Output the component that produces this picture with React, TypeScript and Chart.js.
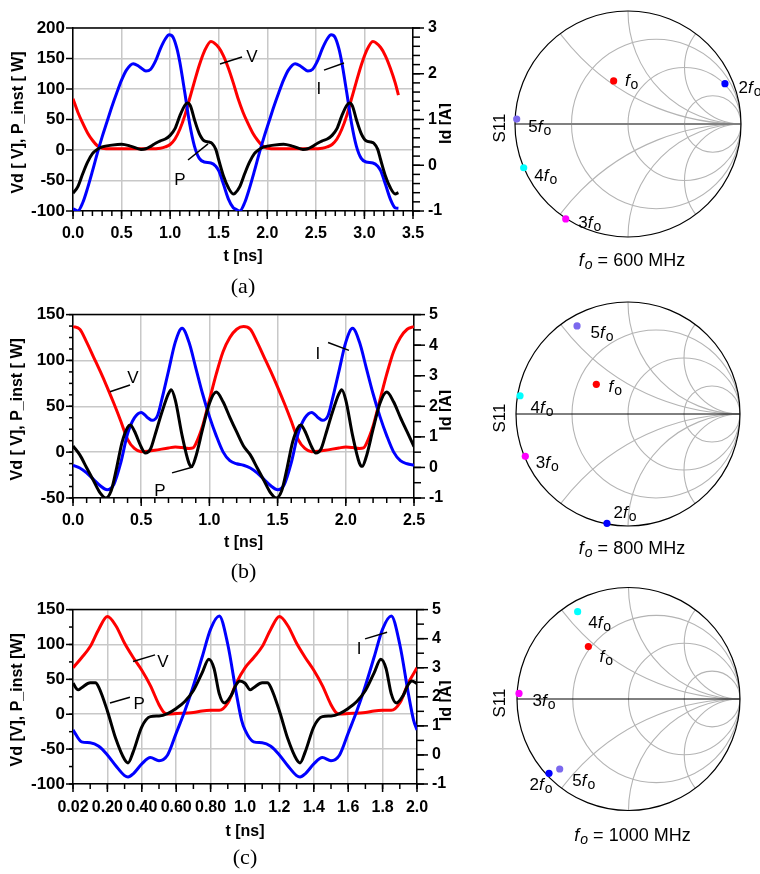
import React, { useEffect, useRef } from "react";
import { Chart, registerables } from "chart.js";
Chart.register(...registerables);

const SANS = "Arial, 'Liberation Sans', Helvetica, sans-serif";
const SERIF = "'Times New Roman', 'Liberation Serif', serif";
const GRID = "#c8c8c8";

// ---------------- Panel (a) : f0 = 600 MHz ----------------
const tV_a = [0,0.05,0.1,0.15,0.2,0.25,0.3,0.4,0.6,0.8,0.9,0.95,1.0,1.05,1.1,1.15,1.2,1.25,1.3,1.35,1.42,1.5,1.55,1.6,1.65,1.7,1.75,1.8,1.85,1.9,1.95,2.0,2.1,2.267,2.467,2.567,2.617,2.667,2.717,2.767,2.817,2.867,2.917,2.967,3.017,3.087,3.167,3.217,3.267,3.317,3.35];
const V_a = [84,62,44,28,16,7,3,2,2,2,3,5,9,18,34,56,84,112,139,161,178,168,154,134,110,84,62,44,28,16,7,3,2,2,2,3,5,9,18,34,56,84,112,139,161,178,168,154,134,110,90];
const tI_a = [0,0.05,0.1,0.15,0.2,0.25,0.3,0.35,0.4,0.45,0.5,0.55,0.62,0.68,0.75,0.8,0.85,0.9,0.95,0.99,1.03,1.07,1.1,1.15,1.2,1.25,1.3,1.35,1.42,1.47,1.5,1.55,1.6,1.65,1.667,1.717,1.767,1.817,1.867,1.917,1.967,2.017,2.067,2.117,2.167,2.217,2.287,2.347,2.417,2.467,2.517,2.567,2.617,2.657,2.697,2.737,2.767,2.817,2.867,2.917,2.967,3.017,3.087,3.137,3.167,3.217,3.267,3.317,3.35];
const I_a = [-0.95,-1.0,-0.82,-0.5,-0.13,0.26,0.62,0.95,1.28,1.58,1.86,2.08,2.22,2.16,2.06,2.1,2.28,2.55,2.76,2.85,2.8,2.55,2.25,1.6,0.92,0.42,0.15,0.07,0.05,-0.02,-0.12,-0.42,-0.74,-0.93,-0.95,-1.0,-0.82,-0.5,-0.13,0.26,0.62,0.95,1.28,1.58,1.86,2.08,2.22,2.16,2.06,2.1,2.28,2.55,2.76,2.85,2.8,2.55,2.25,1.6,0.92,0.42,0.15,0.07,0.05,-0.02,-0.12,-0.42,-0.74,-0.93,-0.94];
const tP_a = [0,0.05,0.1,0.15,0.2,0.25,0.3,0.4,0.5,0.6,0.7,0.75,0.8,0.85,0.9,0.95,1.0,1.05,1.1,1.15,1.18,1.21,1.25,1.3,1.35,1.4,1.43,1.47,1.5,1.55,1.6,1.65,1.667,1.717,1.767,1.817,1.867,1.917,1.967,2.067,2.167,2.267,2.367,2.417,2.467,2.517,2.567,2.617,2.667,2.717,2.767,2.817,2.847,2.877,2.917,2.967,3.017,3.067,3.097,3.137,3.167,3.217,3.267,3.317,3.35];
const P_a = [-71,-60,-39,-20,-6,1,5,8,9.5,6,1,2,6,11,15,18,24,35,56,73,77,72,50,27,15,13,11,1,-16,-43,-62,-72,-71,-60,-39,-20,-6,1,5,8,9.5,6,1,2,6,11,15,18,24,35,56,73,77,72,50,27,15,13,11,1,-16,-43,-62,-72,-70];
const xTicks_a = [0,0.5,1,1.5,2,2.5,3,3.5];
const xLabels_a = ["0.0","0.5","1.0","1.5","2.0","2.5","3.0","3.5"];
const yTicks_a = [-100,-50,0,50,100,150,200];
const y1Ticks_a = [-1,0,1,2,3];

// ---------------- Panel (b) : f0 = 800 MHz ----------------
const tV_b = [0,0.05,0.1,0.15,0.2,0.25,0.3,0.35,0.4,0.45,0.5,0.55,0.6,0.7,0.75,0.8,0.85,0.88,0.9,0.95,1.0,1.05,1.1,1.15,1.2,1.25,1.3,1.35,1.4,1.45,1.5,1.55,1.6,1.65,1.7,1.75,1.8,1.85,1.95,2.0,2.05,2.1,2.13,2.15,2.2,2.25,2.3,2.35,2.4,2.45,2.5];
const V_b = [137,134,120,104,88,71,53,34,14,4,0.5,1,2,4.6,5.6,5,4,4.6,9,28.5,56.7,85,109.5,125,134,137,134,120,104,88,71,53,34,14,4,0.5,1,2,4.6,5.6,5,4,4.6,9,28.5,56.7,85,109.5,125,134,137];
const tI_b = [0,0.05,0.1,0.15,0.2,0.25,0.3,0.35,0.4,0.45,0.5,0.55,0.58,0.62,0.65,0.7,0.75,0.8,0.85,0.9,0.95,1.0,1.05,1.1,1.15,1.2,1.25,1.3,1.35,1.4,1.45,1.5,1.55,1.6,1.65,1.7,1.75,1.8,1.83,1.87,1.9,1.95,2.0,2.05,2.1,2.15,2.2,2.25,2.3,2.35,2.4,2.45,2.5];
const I_b = [0.07,-0.02,-0.18,-0.39,-0.6,-0.73,-0.55,0.15,1.1,1.62,1.8,1.62,1.54,1.7,2.2,3.15,4.1,4.55,4.1,3.26,2.41,1.67,1.04,0.51,0.22,0.12,0.07,-0.02,-0.18,-0.39,-0.6,-0.73,-0.55,0.15,1.1,1.62,1.8,1.62,1.54,1.7,2.2,3.15,4.1,4.55,4.1,3.26,2.41,1.67,1.04,0.51,0.22,0.12,0.07];
const tP_b = [0,0.05,0.1,0.15,0.2,0.24,0.28,0.32,0.36,0.4,0.42,0.45,0.5,0.53,0.57,0.6,0.65,0.7,0.72,0.75,0.8,0.85,0.87,0.9,0.95,1.0,1.05,1.1,1.15,1.2,1.25,1.3,1.35,1.4,1.45,1.49,1.53,1.57,1.61,1.65,1.67,1.7,1.75,1.78,1.82,1.85,1.9,1.95,1.97,2.0,2.05,2.1,2.12,2.15,2.2,2.25,2.3,2.35,2.4,2.45,2.5];
const P_b = [6.7,-3,-17,-31,-44.7,-50,-42,-17,11,27,29.6,23,5.6,-1,4,18,42.6,63.7,68,56.7,18,-12,-15.5,-5,25,53,65.5,55,38,22,6.7,-3,-17,-31,-44.7,-50,-42,-17,11,27,29.6,23,5.6,-1,4,18,42.6,63.7,68,56.7,18,-12,-15.5,-5,25,53,65.5,55,38,22,6];
const xTicks_b = [0,0.5,1,1.5,2,2.5];
const xLabels_b = ["0.0","0.5","1.0","1.5","2.0","2.5"];
const yTicks_b = [-50,0,50,100,150];
const y1Ticks_b = [-1,0,1,2,3,4,5];

// ---------------- Panel (c) : f0 = 1000 MHz ----------------
const tV_c = [0,0.05,0.1,0.15,0.2,0.25,0.3,0.35,0.4,0.45,0.5,0.53,0.55,0.6,0.7,0.75,0.8,0.85,0.9,0.95,1,1.05,1.1,1.15,1.2,1.25,1.3,1.35,1.4,1.45,1.5,1.53,1.55,1.6,1.7,1.75,1.8,1.85,1.9,1.95,2.0];
const V_c = [66.5,81,97,122,140,126.5,101.7,81.4,63,41,13.7,2.4,0.5,1,2.4,4.7,5.6,5.6,16,45,66.5,81,97,122,140,126.5,101.7,81.4,63,41,13.7,2.4,0.5,1,2.4,4.7,5.6,5.6,16,45,66.5];
const tI_c = [0,0.05,0.1,0.15,0.2,0.25,0.3,0.32,0.35,0.4,0.45,0.5,0.55,0.6,0.65,0.7,0.75,0.8,0.85,0.9,0.95,0.98,1,1.05,1.1,1.15,1.2,1.25,1.3,1.32,1.35,1.4,1.45,1.5,1.55,1.6,1.65,1.7,1.75,1.8,1.85,1.9,1.95,1.98,2.0];
const I_c = [0.86,0.45,0.42,0.3,0.0,-0.38,-0.71,-0.76,-0.65,-0.31,-0.09,-0.2,0.0,0.75,1.51,2.38,3.35,4.33,4.78,3.8,2.1,1.2,0.86,0.45,0.42,0.3,0.0,-0.38,-0.71,-0.76,-0.65,-0.31,-0.09,-0.2,0.0,0.75,1.51,2.38,3.35,4.33,4.78,3.8,2.1,1.2,0.86];
const tP_c = [0,0.03,0.05,0.1,0.13,0.15,0.2,0.25,0.3,0.32,0.35,0.4,0.45,0.5,0.55,0.6,0.65,0.7,0.75,0.79,0.82,0.85,0.88,0.92,0.95,0.97,1,1.03,1.05,1.1,1.13,1.15,1.2,1.25,1.3,1.32,1.35,1.4,1.45,1.5,1.55,1.6,1.65,1.7,1.75,1.79,1.82,1.85,1.88,1.92,1.95,1.97,2.0];
const P_c = [44.4,35,38,45,45,38.5,4.7,-36,-65,-69.8,-54,-18,-3.4,-2.5,1,8.3,18.2,34,59,79,65.6,29.5,16,27,43,47.6,44.4,35,38,45,45,38.5,4.7,-36,-65,-69.8,-54,-18,-3.4,-2.5,1,8.3,18.2,34,59,79,65.6,29.5,16,27,43,47.6,44];
const xTicks_c = [0,0.2,0.4,0.6,0.8,1.0,1.2,1.4,1.6,1.8,2.0];
const xLabels_c = ["0.02","0.20","0.40","0.60","0.80","1.0","1.2","1.4","1.6","1.8","2.0"];
const yTicks_c = [-100,-50,0,50,100,150];
const y1Ticks_c = [-1,0,1,2,3,4,5];

// ---------------- Smith charts (S11 reflection coefficient) ----------------
const harmPrefix = ["", "2", "3", "4", "5"];
const harmColors = ["#ff0000", "#0000ff", "#ff00ff", "#00ffff", "#7b68ee"];
const gRe_a = [-0.127, 0.858, -0.551, -0.923, -0.985];
const gIm_a = [0.381, 0.357, -0.84, -0.387, 0.044];
const gRe_b = [-0.283, -0.188, -0.917, -0.964, -0.455];
const gIm_b = [0.265, -0.976, -0.378, 0.163, 0.786];
const gRe_c = [-0.36, -0.713, -0.982, -0.456, -0.617];
const gIm_c = [0.47, -0.667, 0.05, 0.783, -0.628];
const smithR = [1 / 3, 1, 3];
const smithX = [0.5, 1, 2];

type Series = { t: number[]; v: number[]; color: string; axis: "y" | "y1" };
type Note = { text: string; at: [number, number]; line: [number, number, number, number] };
type WaveCfg = {
  left: number; top: number; width: number; height: number;
  plotLeft: number; plotRight: number; plotTop: number; plotBottom: number;
  series: Series[];
  xMin: number; xMax: number; xTicks: number[]; xLabels: string[]; xMinor: number;
  yMin: number; yMax: number; yTicks: number[]; yMinor: number;
  y1Min: number; y1Max: number; y1Ticks: number[]; y1Minor: number;
  yTitle: string; y1Title: string; xTitle: string; caption: string;
  xPad: number; xTitleY: number; captionY: number; yTitleX: number;
  notes: Note[];
};

function line(ctx: CanvasRenderingContext2D, x1: number, y1: number, x2: number, y2: number) {
  ctx.beginPath(); ctx.moveTo(x1, y1); ctx.lineTo(x2, y2); ctx.stroke();
}

function minorVals(min: number, max: number, step: number) {
  const out: number[] = [];
  if (!step) return out;
  const n = Math.round((max - min) / step);
  for (let k = 0; k <= n; k++) out.push(min + k * step);
  return out;
}

function buildWave(cfg: WaveCfg): any {
  const datasets = cfg.series.map((s) => ({
    data: s.t.map((x, i) => ({ x, y: s.v[i] })),
    borderColor: s.color, backgroundColor: s.color, borderWidth: 3, pointRadius: 0,
    cubicInterpolationMode: "monotone", yAxisID: s.axis, fill: false,
  }));
  const tickFont = { family: SANS, size: 16, weight: "bold" as const };
  const plugin = {
    id: "waveDeco",
    afterDraw(chart: any) {
      const ctx: CanvasRenderingContext2D = chart.ctx;
      const { left, right, top, bottom } = chart.chartArea;
      const xs = chart.scales.x, ys = chart.scales.y, y1 = chart.scales.y1;
      ctx.save();
      ctx.strokeStyle = "#000"; ctx.lineWidth = 1.5;
      line(ctx, left, top, right, top);
      minorVals(cfg.xMin, cfg.xMax, cfg.xMinor).forEach((v) => { const p = xs.getPixelForValue(v); line(ctx, p, bottom, p, bottom + 5); });
      cfg.xTicks.forEach((v) => { const p = xs.getPixelForValue(v); line(ctx, p, bottom, p, bottom + 8); });
      minorVals(cfg.yMin, cfg.yMax, cfg.yMinor).forEach((v) => { const p = ys.getPixelForValue(v); line(ctx, left - 4, p, left, p); });
      cfg.yTicks.forEach((v) => { const p = ys.getPixelForValue(v); line(ctx, left - 7, p, left, p); });
      minorVals(cfg.y1Min, cfg.y1Max, cfg.y1Minor).forEach((v) => { const p = y1.getPixelForValue(v); line(ctx, right, p, right + 7, p); });
      cfg.y1Ticks.forEach((v) => { const p = y1.getPixelForValue(v); line(ctx, right, p, right + 11, p); });
      // titles
      ctx.fillStyle = "#000";
      ctx.textAlign = "center"; ctx.textBaseline = "middle";
      ctx.font = `bold 16px ${SANS}`;
      ctx.save(); ctx.translate(cfg.yTitleX, (top + bottom) / 2 + 3); ctx.rotate(-Math.PI / 2); ctx.fillText(cfg.yTitle, 0, 0); ctx.restore();
      ctx.save(); ctx.translate(447, (top + bottom) / 2 + 4); ctx.rotate(-Math.PI / 2); ctx.fillText(cfg.y1Title, 0, 0); ctx.restore();
      ctx.fillText(cfg.xTitle, (left + right) / 2, cfg.xTitleY);
      ctx.font = `22px ${SERIF}`;
      ctx.fillText(cfg.caption, (left + right) / 2, cfg.captionY);
      // curve labels with leader lines
      ctx.font = `17px ${SANS}`;
      ctx.lineWidth = 1.5;
      cfg.notes.forEach((n) => {
        ctx.fillText(n.text, xs.getPixelForValue(n.at[0]), ys.getPixelForValue(n.at[1]));
        line(ctx, xs.getPixelForValue(n.line[0]), ys.getPixelForValue(n.line[1]), xs.getPixelForValue(n.line[2]), ys.getPixelForValue(n.line[3]));
      });
      ctx.restore();
    },
  };
  return {
    type: "line",
    data: { datasets },
    options: {
      animation: false, responsive: false, events: [],
      layout: { padding: { top: cfg.plotTop, left: 0, right: 0, bottom: 0 } },
      plugins: { legend: { display: false }, tooltip: { enabled: false }, title: { display: false } },
      scales: {
        x: {
          type: "linear", min: cfg.xMin, max: cfg.xMax,
          afterBuildTicks: (s: any) => { s.ticks = cfg.xTicks.map((v) => ({ value: v })); },
          afterFit: (s: any) => { s.height = cfg.height - cfg.plotBottom; },
          grid: { color: GRID, lineWidth: 1.5, drawTicks: false },
          border: { display: true, color: "#000", width: 1.5 },
          ticks: { autoSkip: false, maxRotation: 0, minRotation: 0, padding: cfg.xPad, color: "#000", font: tickFont,
            callback: (_v: any, i: number) => cfg.xLabels[i] },
        },
        y: {
          type: "linear", position: "left", min: cfg.yMin, max: cfg.yMax,
          afterBuildTicks: (s: any) => { s.ticks = cfg.yTicks.map((v) => ({ value: v })); },
          afterFit: (s: any) => { s.width = cfg.plotLeft; },
          grid: { color: GRID, lineWidth: 1.5, drawTicks: false },
          border: { display: true, color: "#000", width: 1.5 },
          ticks: { padding: 8, color: "#000", font: { ...tickFont, size: 17 }, callback: (_v: any, i: number) => String(cfg.yTicks[i]) },
        },
        y1: {
          type: "linear", position: "right", min: cfg.y1Min, max: cfg.y1Max,
          afterBuildTicks: (s: any) => { s.ticks = cfg.y1Ticks.map((v) => ({ value: v })); },
          afterFit: (s: any) => { s.width = cfg.width - cfg.plotRight; },
          grid: { drawOnChartArea: false, drawTicks: false },
          border: { display: true, color: "#000", width: 1.5 },
          ticks: { padding: 15, color: "#000", font: tickFont, callback: (_v: any, i: number) => String(cfg.y1Ticks[i]) },
        },
      },
    },
    plugins: [plugin],
  };
}

function WaveChart({ cfg }: { cfg: WaveCfg }) {
  const ref = useRef<HTMLCanvasElement>(null);
  useEffect(() => {
    const chart = new Chart(ref.current as HTMLCanvasElement, buildWave(cfg));
    return () => chart.destroy();
  }, []);
  return (
    <canvas ref={ref} width={cfg.width} height={cfg.height}
      style={{ position: "absolute", left: cfg.left, top: cfg.top, width: cfg.width, height: cfg.height }} />
  );
}

type SmithCfg = {
  left: number; top: number; width: number; height: number;
  pad: { left: number; right: number; top: number; bottom: number };
  re: number[]; im: number[]; offsets: [number, number][];
  axisColor: string; axisWidth: number; freq: string; captionY: number;
};

function drawHarm(ctx: CanvasRenderingContext2D, prefix: string, cx: number, cy: number) {
  const size = 17;
  ctx.font = `${size}px ${SANS}`; const wP = ctx.measureText(prefix).width;
  ctx.font = `italic ${size}px ${SANS}`; const wF = ctx.measureText("f").width;
  ctx.font = `${size - 3}px ${SANS}`; const wO = ctx.measureText("o").width;
  let x = cx - (wP + wF + 1 + wO) / 2;
  const base = cy + 6;
  ctx.textAlign = "left"; ctx.textBaseline = "alphabetic";
  ctx.font = `${size}px ${SANS}`; ctx.fillText(prefix, x, base); x += wP;
  ctx.font = `italic ${size}px ${SANS}`; ctx.fillText("f", x, base); x += wF + 1;
  ctx.font = `${size - 3}px ${SANS}`; ctx.fillText("o", x, base + 3);
}

function buildSmith(cfg: SmithCfg): any {
  const plugin = {
    id: "smithDeco",
    beforeDatasetsDraw(chart: any) {
      const ctx: CanvasRenderingContext2D = chart.ctx;
      const xs = chart.scales.x, ys = chart.scales.y;
      const cx = xs.getPixelForValue(0), cy = ys.getPixelForValue(0);
      const R = xs.getPixelForValue(1) - cx;
      ctx.save();
      ctx.beginPath(); ctx.arc(cx, cy, R, 0, Math.PI * 2); ctx.clip();
      ctx.strokeStyle = "#b4b4b4"; ctx.lineWidth = 1.1;
      smithR.forEach((r) => {
        ctx.beginPath(); ctx.arc(cx + (r / (1 + r)) * R, cy, R / (1 + r), 0, Math.PI * 2); ctx.stroke();
      });
      smithX.forEach((x) => {
        [1, -1].forEach((s) => {
          ctx.beginPath(); ctx.arc(cx + R, cy - s * R / x, R / x, 0, Math.PI * 2); ctx.stroke();
        });
      });
      ctx.restore();
      ctx.save();
      ctx.strokeStyle = cfg.axisColor; ctx.lineWidth = cfg.axisWidth;
      line(ctx, cx - R, cy, cx + R, cy);
      ctx.strokeStyle = "#000"; ctx.lineWidth = 1.2;
      ctx.beginPath(); ctx.arc(cx, cy, R, 0, Math.PI * 2); ctx.stroke();
      ctx.restore();
    },
    afterDraw(chart: any) {
      const ctx: CanvasRenderingContext2D = chart.ctx;
      const xs = chart.scales.x, ys = chart.scales.y;
      const cx = xs.getPixelForValue(0), cy = ys.getPixelForValue(0);
      ctx.save();
      ctx.fillStyle = "#000";
      cfg.re.forEach((g, i) => {
        const px = xs.getPixelForValue(g), py = ys.getPixelForValue(cfg.im[i]);
        drawHarm(ctx, harmPrefix[i], px + cfg.offsets[i][0], py + cfg.offsets[i][1]);
      });
      ctx.font = `17px ${SANS}`; ctx.textAlign = "center"; ctx.textBaseline = "middle";
      ctx.save(); ctx.translate(20, cy + 4); ctx.rotate(-Math.PI / 2); ctx.fillText("S11", 0, 0); ctx.restore();
      // caption  f_o = ... MHz
      const size = 18;
      ctx.font = `italic ${size}px ${SANS}`; const wF = ctx.measureText("f").width;
      ctx.font = `italic ${size - 4}px ${SANS}`; const wO = ctx.measureText("o").width;
      const rest = ` = ${cfg.freq} MHz`;
      ctx.font = `${size}px ${SANS}`; const wR = ctx.measureText(rest).width;
      let x = cx + 4 - (wF + 1 + wO + wR) / 2;
      const base = cfg.captionY + 6;
      ctx.textAlign = "left"; ctx.textBaseline = "alphabetic";
      ctx.font = `italic ${size}px ${SANS}`; ctx.fillText("f", x, base); x += wF + 1;
      ctx.font = `italic ${size - 4}px ${SANS}`; ctx.fillText("o", x, base + 3); x += wO;
      ctx.font = `${size}px ${SANS}`; ctx.fillText(rest, x, base);
      ctx.restore();
    },
  };
  return {
    type: "scatter",
    data: {
      datasets: [{
        data: cfg.re.map((x, i) => ({ x, y: cfg.im[i] })),
        pointRadius: 3.6, pointBorderWidth: 0,
        pointBackgroundColor: harmColors, pointBorderColor: harmColors, clip: false,
      }],
    },
    options: {
      animation: false, responsive: false, events: [],
      layout: { padding: cfg.pad },
      plugins: { legend: { display: false }, tooltip: { enabled: false } },
      scales: {
        x: { type: "linear", min: -1, max: 1, display: false },
        y: { type: "linear", min: -1, max: 1, display: false },
      },
    },
    plugins: [plugin],
  };
}

function SmithChart({ cfg }: { cfg: SmithCfg }) {
  const ref = useRef<HTMLCanvasElement>(null);
  useEffect(() => {
    const chart = new Chart(ref.current as HTMLCanvasElement, buildSmith(cfg));
    return () => chart.destroy();
  }, []);
  return (
    <canvas ref={ref} width={cfg.width} height={cfg.height}
      style={{ position: "absolute", left: cfg.left, top: cfg.top, width: cfg.width, height: cfg.height }} />
  );
}

const waveA: WaveCfg = {
  left: 0, top: 0, width: 451, height: 300, plotLeft: 73, plotRight: 413, plotTop: 28, plotBottom: 211,
  series: [
    { t: tP_a, v: P_a, color: "#000000", axis: "y" },
    { t: tI_a, v: I_a, color: "#0000ff", axis: "y1" },
    { t: tV_a, v: V_a, color: "#ff0000", axis: "y" },
  ],
  xMin: 0, xMax: 3.5, xTicks: xTicks_a, xLabels: xLabels_a, xMinor: 0.1,
  yMin: -100, yMax: 200, yTicks: yTicks_a, yMinor: 0,
  y1Min: -1, y1Max: 3, y1Ticks: y1Ticks_a, y1Minor: 0.2,
  yTitle: "Vd [ V], P_inst [ W]", y1Title: "Id [A]", xTitle: "t [ns]", caption: "(a)",
  xPad: 13, xTitleY: 257, captionY: 287, yTitleX: 19,
  notes: [
    { text: "V", at: [1.843, 152.5], line: [1.513, 141, 1.74, 152.5] },
    { text: "I", at: [2.532, 100], line: [2.584, 131, 2.79, 142.6] },
    { text: "P", at: [1.101, -49], line: [1.184, -16.4, 1.39, 10] },
  ],
};

const waveB: WaveCfg = {
  left: 0, top: 290, width: 451, height: 295, plotLeft: 73, plotRight: 414, plotTop: 18, plotBottom: 208,
  series: [
    { t: tP_b, v: P_b, color: "#000000", axis: "y" },
    { t: tI_b, v: I_b, color: "#0000ff", axis: "y1" },
    { t: tV_b, v: V_b, color: "#ff0000", axis: "y" },
  ],
  xMin: 0, xMax: 2.5, xTicks: xTicks_b, xLabels: xLabels_b, xMinor: 0.1,
  yMin: -50, yMax: 150, yTicks: yTicks_b, yMinor: 12.5,
  y1Min: -1, y1Max: 5, y1Ticks: y1Ticks_b, y1Minor: 0.5,
  yTitle: "Vd [ V], P_inst [ W]", y1Title: "Id [A]", xTitle: "t [ns]", caption: "(b)",
  xPad: 13, xTitleY: 253, captionY: 282, yTitleX: 18,
  notes: [
    { text: "V", at: [0.44, 80.5], line: [0.271, 65.8, 0.418, 73.2] },
    { text: "I", at: [1.796, 106.8], line: [1.87, 119.5, 2.023, 111] },
    { text: "P", at: [0.638, -42.6], line: [0.726, -22.6, 0.88, -16.3] },
  ],
};

const waveC: WaveCfg = {
  left: 0, top: 585, width: 451, height: 289, plotLeft: 73, plotRight: 417, plotTop: 14, plotBottom: 199,
  series: [
    { t: tP_c, v: P_c, color: "#000000", axis: "y" },
    { t: tI_c, v: I_c, color: "#0000ff", axis: "y1" },
    { t: tV_c, v: V_c, color: "#ff0000", axis: "y" },
  ],
  xMin: 0, xMax: 2.0, xTicks: xTicks_c, xLabels: xLabels_c, xMinor: 0.1,
  yMin: -100, yMax: 150, yTicks: yTicks_c, yMinor: 25,
  y1Min: -1, y1Max: 5, y1Ticks: y1Ticks_c, y1Minor: 0.5,
  yTitle: "Vd [V], P_inst [W]", y1Title: "Id [A]", xTitle: "t [ns]", caption: "(c)",
  xPad: 14, xTitleY: 247, captionY: 273, yTitleX: 18,
  notes: [
    { text: "V", at: [0.523, 74.3], line: [0.349, 75.7, 0.477, 85.1] },
    { text: "P", at: [0.384, 14.9], line: [0.215, 16.2, 0.331, 24.3] },
    { text: "I", at: [1.663, 93.2], line: [1.698, 108, 1.826, 117.6] },
  ],
};

const smithA: SmithCfg = {
  left: 480, top: 0, width: 280, height: 290, pad: { left: 35, right: 19, top: 11, bottom: 53 },
  re: gRe_a, im: gIm_a,
  offsets: [[18, -1], [25, 3], [24, 3], [22, 7], [23, 7]],
  axisColor: "#808080", axisWidth: 2, freq: "600", captionY: 260,
};
const smithB: SmithCfg = {
  left: 480, top: 290, width: 280, height: 290, pad: { left: 36, right: 20, top: 12, bottom: 54 },
  re: gRe_b, im: gIm_b,
  offsets: [[19, 2], [18, -11], [22, 6], [22, 11], [25, 6]],
  axisColor: "#000000", axisWidth: 1, freq: "800", captionY: 258,
};
const smithC: SmithCfg = {
  left: 480, top: 580, width: 280, height: 294, pad: { left: 37, right: 20, top: 7.5, bottom: 63.5 },
  re: gRe_c, im: gIm_c,
  offsets: [[18, 9], [-8, 11], [25, 7], [22, 10], [24, 11]],
  axisColor: "#000000", axisWidth: 1, freq: "1000", captionY: 255,
};

export default function App() {
  return (
    <div style={{ position: "absolute", left: 0, top: 0, width: 760, height: 874, background: "#fff", overflow: "hidden" }}>
      <WaveChart cfg={waveA} />
      <WaveChart cfg={waveB} />
      <WaveChart cfg={waveC} />
      <SmithChart cfg={smithA} />
      <SmithChart cfg={smithB} />
      <SmithChart cfg={smithC} />
    </div>
  );
}
